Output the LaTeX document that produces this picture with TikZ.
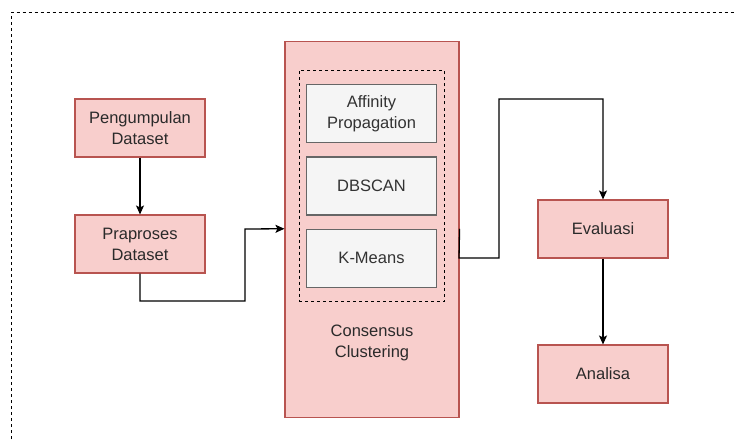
\documentclass[tikz,border=0pt]{standalone}
\usepackage{fontspec}
\setmainfont{Liberation Sans}
\usetikzlibrary{arrows.meta}
\definecolor{pinkfill}{HTML}{F8CECC}
\definecolor{pinkline}{HTML}{B85450}
\definecolor{grayfill}{HTML}{F5F5F5}
\definecolor{grayline}{HTML}{666666}
\definecolor{txt}{HTML}{2A2A2A}
\definecolor{algotxt}{HTML}{333333}
\begin{document}
\begin{tikzpicture}[x=1pt,y=-1pt,
  every node/.style={font=\fontsize{16.5}{21}\selectfont, text=txt, align=center, inner sep=0pt},
  stage/.style={draw=pinkline, fill=pinkfill, line width=1.1pt},
  algo/.style={draw=grayline, fill=grayfill, line width=1.1pt, text=algotxt},
  frame/.style={draw=black, dashed, dash pattern=on 3pt off 3pt, line width=1pt},
  link/.style={draw=black, line width=1.3pt},
  flow/.style={link, -{Stealth[length=9pt,width=8pt,inset=2pt]}}]
\useasboundingbox (0,0) rectangle (735,441);
% outer dashed frame (runs past the right and bottom edges)
\draw[frame] (11,445) -- (11,12.5) -- (740,12.5);
% pipeline stages
\node[stage, minimum width=130pt, minimum height=58pt] (collect) at (140,128) {Pengumpulan\\Dataset};
\node[stage, minimum width=130pt, minimum height=58pt] (prep) at (140,244) {Praproses\\Dataset};
\node[stage, minimum width=174pt, minimum height=376pt] (cons) at (372,229.5) {};
\node at (372,343) {Consensus\\Clustering};
% clustering algorithms
\node[frame, minimum width=145pt, minimum height=231pt] (group) at (371.5,186) {};
\node[algo, minimum width=130pt, minimum height=58pt] (ap) at (371.5,113.5) {Affinity\\Propagation};
\node[algo, minimum width=130pt, minimum height=58pt] (db) at (371.5,186) {DBSCAN};
\node[algo, minimum width=130pt, minimum height=58pt] (km) at (371.5,258.3) {K-Means};
\node[stage, minimum width=130pt, minimum height=58pt] (eval) at (603,229) {Evaluasi};
\node[stage, minimum width=130pt, minimum height=58pt] (ana) at (603,374) {Analisa};
% connectors
\draw[flow] (collect.south) -- (prep.north);
\coordinate (c1) at (cons.west |- km.north);
\draw[flow] (prep.south) -- (140,301) -- (245,301) -- (245,229) -- (c1);
\coordinate (c2) at (cons.east |- km.north);
\draw[flow] (c2) -- (459,258) -- (499,258) -- (499,99) -- (603,99) -- (eval.north);
\draw[flow] (eval.south) -- (ana.north);
\end{tikzpicture}
\end{document}
